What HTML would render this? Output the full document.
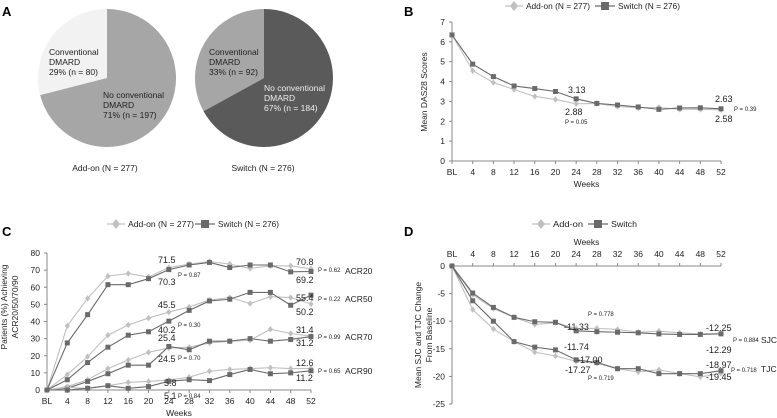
<!DOCTYPE html>
<html><head><meta charset="utf-8"><style>
body{margin:0;background:#fff}
svg{display:block;font-family:"Liberation Sans",sans-serif}
</style></head><body>
<svg id="fig" width="777" height="418" viewBox="0 0 777 418" xmlns="http://www.w3.org/2000/svg">
<text x="2" y="16" font-size="13" font-weight="bold">A</text>
<text x="404" y="16" font-size="13" font-weight="bold">B</text>
<text x="2" y="236" font-size="13" font-weight="bold">C</text>
<text x="404" y="236" font-size="13" font-weight="bold">D</text>
<g id="pies"></g>
<g id="pb"></g>
<g id="pc"></g>
<g id="pd"></g>
</svg>
<script>
const NS="http://www.w3.org/2000/svg";
const weeks=["BL","4","8","12","16","20","24","28","32","36","40","44","48","52"];
const pieAddon=[29,71];
const pieSwitch=[33,67];
const dasAdd=[6.35,4.55,3.95,3.6,3.25,3.1,2.88,2.9,2.75,2.68,2.7,2.6,2.6,2.58];
const dasSw=[6.35,4.88,4.25,3.78,3.65,3.5,3.13,2.9,2.82,2.72,2.6,2.67,2.68,2.63];
const acr20Add=[0,37.5,53.5,66.5,68,66,71.5,73.5,75,73.5,71,72.5,72.5,70.8];
const acr20Sw=[0,27.5,44,61.5,61.5,65,70.3,73,74.5,71.5,73,73,69,69.2];
const acr50Add=[0,9,19.5,32,38,42,45.5,48.5,52.5,54,50.5,54.5,54,50.2];
const acr50Sw=[0,6,16,25,32,34,40.2,46.5,52,53,57,57,49.5,55.4];
const acr70Add=[0,2,6,12.5,17.5,22,24.5,25,27.5,28.5,29,35.5,33,31.4];
const acr70Sw=[0,1,5,9.5,14.5,14.5,25.4,23.5,28.5,28.5,30,28.5,29.5,31.2];
const acr90Add=[0,1.5,1,2.5,4.5,5,5.8,7.5,11,12,12.5,13,12.5,12.6];
const acr90Sw=[0,0,1,2.5,1,2,5.1,6,5.5,9,12,9.5,10,11.2];
const sjcAdd=[0,-5.2,-7.7,-9.3,-10.6,-10.3,-11.33,-11.3,-11.5,-12,-11.8,-12.1,-12.3,-12.25];
const sjcSw=[0,-4.9,-7.5,-9.3,-10.1,-10.2,-11.74,-11.9,-12,-12.1,-12.3,-12.4,-12.4,-12.29];
const tjcAdd=[0,-7.9,-11.4,-13.7,-15.6,-16.3,-17.27,-17.6,-18.6,-19.2,-18.8,-19.5,-20.1,-19.45];
const tjcSw=[0,-6.3,-10,-13.7,-14.7,-15.2,-17.0,-17.5,-18.6,-18.6,-19.5,-19.5,-19.5,-18.97];
const ADD="#c0c0c0",SW="#6a6a6a";
function mk(p,tag,at,txt){const e=document.createElementNS(NS,tag);for(const k in at)e.setAttribute(k,at[k]);if(txt!==undefined)e.textContent=txt;p.appendChild(e);return e;}
function txt(p,x,y,s,fs,anchor,name,extra){const e=mk(p,"text",Object.assign({x:x,y:y,"font-size":fs,"text-anchor":anchor||"start",fill:"#222"},extra||{}),s);


return e;}
function pie(cx,cy,r,vals,cols,name){const g=document.getElementById("pies");const tot=vals[0]+vals[1];
vals.forEach((v,i)=>{
let st=i===0?0:-(vals[0]/tot)*2*Math.PI, en=i===0?-(v/tot)*2*Math.PI:-2*Math.PI+0.0001;
const x0=cx+r*Math.sin(st),y0=cy-r*Math.cos(st),x1=cx+r*Math.sin(en),y1=cy-r*Math.cos(en);
const large=(v/tot)>0.5?1:0;
const p=mk(g,"path",{d:`M${cx},${cy} L${x0},${y0} A${r},${r} 0 ${large} 0 ${x1},${y1} Z`,fill:cols[i]});

});}
pie(107,78,69,pieAddon,["#f2f2f2","#a6a6a6"],"addon-pie");
pie(264,78,69,pieSwitch,["#a6a6a6","#5a5a5a"],"switch-pie");
{const g=document.getElementById("pies");
[["Conventional",49,55],["DMARD",49,65],["29% (n = 80)",49,75]].forEach((t,i)=>txt(g,t[1],t[2],t[0],8.5,"start","addon-conv-label-"+i));
[["No conventional",103,98],["DMARD",103,108],["71% (n = 197)",103,118]].forEach((t,i)=>txt(g,t[1],t[2],t[0],8.5,"start","addon-noconv-label-"+i));
[["Conventional",209,55],["DMARD",209,65],["33% (n = 92)",209,75]].forEach((t,i)=>txt(g,t[1],t[2],t[0],8.5,"start","switch-conv-label-"+i));
[["No conventional",264,91],["DMARD",264,101],["67% (n = 184)",264,111]].forEach((t,i)=>txt(g,t[1],t[2],t[0],8.5,"start","switch-noconv-label-"+i,{fill:"#eee"}));
txt(g,105,171,"Add-on (N = 277)",8.5,"middle","addon-caption");
txt(g,263,171,"Switch (N = 276)",8.5,"middle","switch-caption");}
function legend(g,x,y,w,l1,l2,tl1,tl2){
mk(g,"line",{x1:x,y1:y,x2:x+18,y2:y,stroke:ADD,"stroke-width":1.2});
const d=mk(g,"path",{d:`M${x+9},${y-5}L${x+13},${y}L${x+9},${y+5}L${x+5},${y}Z`,fill:ADD});


txt(g,x+21,y+3,l1,8.5,"start","legend-addon",{textLength:tl1,lengthAdjust:"spacingAndGlyphs"});
mk(g,"line",{x1:x+w,y1:y,x2:x+w+20,y2:y,stroke:SW,"stroke-width":1.2});
const s=mk(g,"rect",{x:x+w+6,y:y-4,width:8,height:8,fill:SW});


txt(g,x+w+23,y+3,l2,8.5,"start","legend-switch",{textLength:tl2,lengthAdjust:"spacingAndGlyphs"});}
function chart(gid,o){const g=document.getElementById(gid);
const X=i=>o.x0+(o.x1-o.x0)*i/(weeks.length-1);
const Y=v=>o.yb+(o.yt-o.yb)*(v-o.vmin)/(o.vmax-o.vmin);
const ax=mk(g,"line",{x1:o.x0,y1:Y(o.vmax),x2:o.x0,y2:Y(o.vmin),stroke:"#888","stroke-width":1});


const xa=o.top?Y(0):Y(o.vmin);
const xl=mk(g,"line",{x1:o.x0,y1:xa,x2:o.x1,y2:xa,stroke:"#888","stroke-width":1});


o.yticks.forEach(v=>{mk(g,"line",{x1:o.x0-3,y1:Y(v),x2:o.x0,y2:Y(v),stroke:"#888"});txt(g,o.x0-7,Y(v)+3,String(v),8.5,"end","y-tick-"+v);});
weeks.forEach((w,i)=>{const ty=o.top?xa-3:xa+3;mk(g,"line",{x1:X(i),y1:xa,x2:X(i),y2:ty,stroke:"#888"});
txt(g,X(i),o.top?xa-9:xa+14,w,8.5,"middle","x-tick-"+w);});
txt(g,(o.x0+o.x1)/2,o.top?xa-21:xa+26,"Weeks",8.5,"middle","x-axis-title");
o.ytitle.forEach((t,k)=>txt(g,0,0,t,8.5,"middle","y-axis-title-"+k,{transform:`translate(${o.ytx+k*11},${o.yty}) rotate(-90)`}));
o.series.forEach(s=>{const col=s.sw?SW:ADD;
const pl=mk(g,"polyline",{points:s.d.map((v,i)=>X(i)+","+Y(v)).join(" "),fill:"none",stroke:col,"stroke-width":1.1});


s.d.forEach((v,i)=>{let m;
if(s.sw)m=mk(g,"rect",{x:X(i)-2.5,y:Y(v)-2.5,width:5,height:5,fill:SW});
else m=mk(g,"path",{d:`M${X(i)},${Y(v)-3.2}L${X(i)+2.6},${Y(v)}L${X(i)},${Y(v)+3.2}L${X(i)-2.6},${Y(v)}Z`,fill:ADD});

});});
o.notes.forEach((n,k)=>txt(g,n[0],n[1],n[2],n[3]||9,n[4]||"start","annotation-"+k));
}
const gb=document.getElementById("pb");legend(gb,505,6,90,"Add-on (N = 277)","Switch (N = 276)",64,62);
chart("pb",{x0:452,x1:721,yt:22,yb:161,vmin:0,vmax:7,yticks:[0,1,2,3,4,5,6,7],ytitle:["Mean DAS28 Scores"],ytx:427,yty:92,
series:[{d:dasAdd,name:"addon-das28"},{d:dasSw,name:"switch-das28",sw:1}],
notes:[[568,93,"3.13"],[565,115,"2.88"],[565,124,"P = 0.05",6],[715,102,"2.63"],[715,122,"2.58"],[734,111,"P = 0.39",6]]});
const gc=document.getElementById("pc");legend(gc,107,224,88,"Add-on (N = 277)","Switch (N = 276)",66,61);
chart("pc",{x0:47,x1:311,yt:253,yb:390,vmin:0,vmax:80,yticks:[0,10,20,30,40,50,60,70,80],ytitle:["Patients (%) Achieving","ACR20/50/70/90"],ytx:7,yty:307,
series:[{d:acr20Add,name:"addon-acr20"},{d:acr20Sw,name:"switch-acr20",sw:1},{d:acr50Add,name:"addon-acr50"},{d:acr50Sw,name:"switch-acr50",sw:1},
{d:acr70Add,name:"addon-acr70"},{d:acr70Sw,name:"switch-acr70",sw:1},{d:acr90Add,name:"addon-acr90"},{d:acr90Sw,name:"switch-acr90",sw:1}],
notes:[[158,263,"71.5"],[158,285,"70.3"],[178,277,"P = 0.87",6],[158,308,"45.5"],[158,333,"40.2"],[178,327,"P = 0.30",6],
[158,341,"25.4"],[158,362,"24.5"],[178,360,"P = 0.70",6],[164,386,"5.8"],[164,399,"5.1"],[178,398,"P = 0.84",6],
[296,265,"70.8"],[296,283,"69.2"],[296,301,"55.4"],[296,315,"50.2"],[296,333,"31.4"],[296,346,"31.2"],[296,366,"12.6"],[296,381,"11.2"],
[318,272,"P = 0.62",6],[318,301,"P = 0.22",6],[318,339,"P = 0.99",6],[318,373,"P = 0.65",6],
[345,274,"ACR20",8.5],[345,302,"ACR50",8.5],[345,340,"ACR70",8.5],[345,374,"ACR90",8.5]]});
const gd=document.getElementById("pd");legend(gd,532,224,56,"Add-on","Switch",30,26);
chart("pd",{x0:452,x1:721,yt:404,yb:266,vmin:0,vmax:-25,top:1,yticks:[0,-5,-10,-15,-20,-25],ytitle:["Mean SJC and TJC Change","From Baseline"],ytx:421,yty:335,
series:[{d:sjcAdd,name:"addon-sjc"},{d:sjcSw,name:"switch-sjc",sw:1},{d:tjcAdd,name:"addon-tjc"},{d:tjcSw,name:"switch-tjc",sw:1}],
notes:[[588,316,"P = 0.778",6],[564,330,"-11.33"],[564,350,"-11.74"],[577,363,"-17.00"],[565,373,"-17.27"],[588,380,"P = 0.719",6],
[706,331,"-12.25"],[706,353,"-12.29"],[706,368,"-18.97"],[706,380,"-19.45"],[733,342,"P = 0.884",6],[731,372,"P = 0.718",6],
[761,343,"SJC",8.5],[761,372,"TJC",8.5]]});
</script>
</body></html>
